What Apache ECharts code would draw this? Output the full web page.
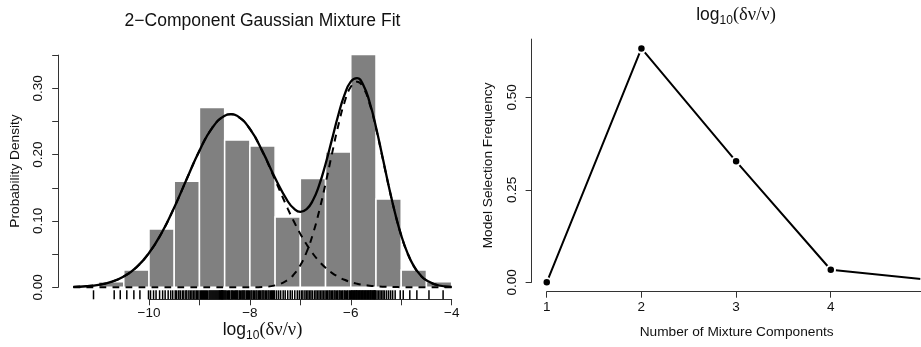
<!DOCTYPE html>
<html>
<head>
<meta charset="utf-8">
<script src="https://cdn.jsdelivr.net/npm/echarts@6/dist/echarts.min.js"></script>
<style>
  html, body { margin: 0; padding: 0; background: #fff; }
  #chart { width: 921px; height: 347px; }
</style>
</head>
<body>
<div id="chart"></div>
<script>
// ---- Left panel: histogram of log10(δν/ν) with a 2-component Gaussian mixture ----
const binWidth = 0.5;
const binStarts  = [-11, -10.5, -10, -9.5, -9, -8.5, -8, -7.5, -7, -6.5, -6, -5.5, -5, -4.5];
const binDensity = [0.0085, 0.026, 0.088, 0.160, 0.271, 0.222, 0.213, 0.106, 0.164, 0.204, 0.351, 0.133, 0.026, 0.0085];

// Fitted densities sampled along the x range
const curveX = [-11.5, -11.25, -11, -10.75, -10.5, -10.25, -10, -9.75, -9.5, -9.25, -9, -8.75, -8.5, -8.375,
  -8.25, -8, -7.75, -7.5, -7.25, -7.125, -7, -6.875, -6.75, -6.625, -6.5, -6.375, -6.25, -6.125, -6,
  -5.875, -5.75, -5.625, -5.5, -5.375, -5.25, -5.125, -5, -4.875, -4.75, -4.625, -4.5, -4.25, -4];
const component1 = [0.0006, 0.0016, 0.0038, 0.0082, 0.0163, 0.0301, 0.0517, 0.0819, 0.1203, 0.1636, 0.2059, 0.2399, 0.2587, 0.2610,
  0.2583, 0.2387, 0.2043, 0.1618, 0.1187, 0.0987, 0.0805, 0.0645, 0.0506, 0.0390, 0.0294, 0.0218, 0.0159, 0.0113, 0.0079,
  0.0054, 0.0037, 0.0024, 0.0016, 0.0010, 0.0006, 0.0004, 0.0002, 0.0001, 0.0001, 0, 0, 0, 0];
const component2 = [0, 0, 0, 0, 0, 0, 0, 0, 0, 0, 0, 0, 0, 0,
  0, 0.0001, 0.0006, 0.0029, 0.0110, 0.0197, 0.0332, 0.0532, 0.0806, 0.1154, 0.1564, 0.2004, 0.2430, 0.2786, 0.3022,
  0.3100, 0.3008, 0.2761, 0.2398, 0.1969, 0.1530, 0.1124, 0.0781, 0.0514, 0.0319, 0.0188, 0.0105, 0.0027, 0.0006];
const mixture = [0.0006, 0.0016, 0.0038, 0.0082, 0.0163, 0.0301, 0.0517, 0.0819, 0.1203, 0.1636, 0.2059, 0.2399, 0.2587, 0.2610,
  0.2583, 0.2388, 0.2049, 0.1647, 0.1297, 0.1184, 0.1137, 0.1177, 0.1312, 0.1544, 0.1858, 0.2222, 0.2589, 0.2899, 0.3101,
  0.3154, 0.3045, 0.2785, 0.2414, 0.1979, 0.1536, 0.1128, 0.0783, 0.0515, 0.0320, 0.0188, 0.0105, 0.0027, 0.0006];

// Individual observations (rug)
const observations = [
  -11.10, -10.69, -10.57, -10.44, -10.30, -10.18, -10.01,
  -9.97, -9.91, -9.86, -9.79, -9.73, -9.68, -9.62, -9.57, -9.53,
  -9.48, -9.45, -9.41, -9.38, -9.34, -9.31, -9.27, -9.25, -9.21, -9.18, -9.15, -9.12, -9.09, -9.06, -9.04, -9.01,
  -8.98, -8.96, -8.94, -8.92, -8.90, -8.88, -8.86, -8.84, -8.81, -8.79, -8.77, -8.75, -8.73, -8.71, -8.69, -8.67,
  -8.65, -8.63, -8.61, -8.60, -8.58, -8.57, -8.56, -8.55, -8.54, -8.53, -8.51,
  -8.49, -8.47, -8.44, -8.42, -8.40, -8.37, -8.35, -8.33, -8.30, -8.28, -8.26, -8.24, -8.21, -8.19, -8.16, -8.14,
  -8.12, -8.10, -8.07, -8.05, -8.03, -8.01,
  -7.98, -7.96, -7.93, -7.91, -7.88, -7.86, -7.83, -7.81, -7.79, -7.76, -7.74, -7.72, -7.69, -7.67, -7.64, -7.62,
  -7.59, -7.57, -7.55, -7.53, -7.51,
  -7.47, -7.43, -7.39, -7.34, -7.30, -7.25, -7.20, -7.16, -7.11, -7.06, -7.02,
  -6.98, -6.95, -6.91, -6.88, -6.85, -6.82, -6.79, -6.76, -6.72, -6.69, -6.66, -6.63, -6.60, -6.57, -6.54, -6.51,
  -6.48, -6.46, -6.43, -6.41, -6.38, -6.36, -6.33, -6.31, -6.28, -6.26, -6.23, -6.21, -6.18, -6.16, -6.13, -6.11,
  -6.08, -6.06, -6.03, -6.01,
  -5.99, -5.98, -5.96, -5.95, -5.93, -5.92, -5.90, -5.89, -5.88, -5.86, -5.85, -5.83, -5.82, -5.80, -5.79, -5.77,
  -5.76, -5.74, -5.73, -5.71, -5.70, -5.68, -5.67, -5.65, -5.64, -5.62, -5.61, -5.60, -5.58, -5.57, -5.55, -5.54,
  -5.53, -5.52, -5.51,
  -5.48, -5.45, -5.42, -5.39, -5.36, -5.33, -5.29, -5.25, -5.21, -5.17, -5.12, -5.02,
  -4.96, -4.83, -4.69, -4.45, -4.17
];
const leftXTicks = [-10, -9, -8, -7, -6, -5, -4];
const leftXLabels = [-10, -8, -6, -4];
const leftYTicks = [0, 0.05, 0.10, 0.15, 0.20, 0.25, 0.30, 0.35];
const leftYLabels = [0, 0.10, 0.20, 0.30];

// ---- Right panel: how often each model size was selected ----
const components = [1, 2, 3, 4, 5];
const selectionFrequency = [0.0, 0.632, 0.327, 0.034, 0.008];
const rightYTicks = [0, 0.25, 0.50];

const SANS = '"Liberation Sans", Arial, Helvetica, sans-serif';
const SERIF = '"Liberation Serif", "DejaVu Serif", serif';
const INK = '#111';
const AXIS = '#333';

const minus = v => String(v).replace('-', '\u2212');
const fixed2 = v => Number(v).toFixed(2);

const hidden = { show: false };

const chart = echarts.init(document.getElementById('chart'), null, { renderer: 'canvas' });

const logLabelRich = {
  a: { fontFamily: SANS, fontSize: 17.5, lineHeight: 24, color: INK, verticalAlign: 'middle' },
  b: { fontFamily: SANS, fontSize: 12, lineHeight: 12, color: INK, verticalAlign: 'bottom' },
  c: { fontFamily: SERIF, fontSize: 18.5, lineHeight: 24, color: INK, verticalAlign: 'middle' }
};
const logLabel = '{a|log}{b|10}{c|(δν/ν)}';

function textEl(x, y, text, size, rot) {
  return {
    type: 'text', x: x, y: y, rotation: rot || 0, silent: true,
    style: { text: text, fill: INK, font: size + 'px ' + SANS, align: 'center', verticalAlign: 'middle' }
  };
}
function richEl(x, y) {
  return {
    type: 'text', x: x, y: y, silent: true,
    style: { text: logLabel, rich: logLabelRich, fill: INK, align: 'center', verticalAlign: 'middle' }
  };
}

const tickStyle = { show: true, length: 6, lineStyle: { color: AXIS, width: 1 } };
const labelStyle = { color: INK, fontFamily: SANS, fontSize: 13.5 };

const option = {
  animation: false,
  backgroundColor: '#fff',
  grid: [
    // 0: left plotting region
    { left: 58.2, top: 55.1, width: 408.6, height: 244.2, outerBoundsMode: 'none' },
    // 1: left y axis
    { left: 58.2, top: 55.1, width: 10, height: 232.2, outerBoundsMode: 'none' },
    // 2: left x axis
    { left: 149, top: 290, width: 302.7, height: 9.3, outerBoundsMode: 'none' },
    // 3: right plotting region
    { left: 531.6, top: 39.1, width: 409.0, height: 252.6, outerBoundsMode: 'none' },
    // 4: right y axis
    { left: 531.6, top: 39.1, width: 10, height: 243.2, outerBoundsMode: 'none' },
    // 5: right x axis
    { left: 546.7, top: 280, width: 393.8, height: 11.7, outerBoundsMode: 'none' }
  ],
  xAxis: [
    { gridIndex: 0, type: 'value', min: -11.8, max: -3.7, show: false },
    { gridIndex: 1, type: 'value', min: 0, max: 1, show: false },
    {
      gridIndex: 2, type: 'value', min: -10, max: -4, interval: 1, position: 'bottom',
      axisLine: { show: true, lineStyle: { color: AXIS, width: 1 } },
      axisTick: Object.assign({ customValues: leftXTicks }, tickStyle),
      axisLabel: Object.assign({ customValues: leftXLabels, margin: 6.5, formatter: minus }, labelStyle),
      splitLine: hidden
    },
    { gridIndex: 3, type: 'value', min: 0.84, max: 5.16, show: false },
    { gridIndex: 4, type: 'value', min: 0, max: 1, show: false },
    {
      gridIndex: 5, type: 'value', min: 1, max: 5.16, position: 'bottom',
      axisLine: { show: true, lineStyle: { color: AXIS, width: 1 } },
      axisTick: Object.assign({ customValues: components }, tickStyle),
      axisLabel: Object.assign({ customValues: components, margin: 9 }, labelStyle),
      splitLine: hidden
    }
  ],
  yAxis: [
    { gridIndex: 0, type: 'value', min: -0.0181, max: 0.35, show: false },
    {
      gridIndex: 1, type: 'value', min: 0, max: 0.35, interval: 0.05, position: 'left',
      axisLine: { show: true, lineStyle: { color: AXIS, width: 1 } },
      axisTick: Object.assign({ customValues: leftYTicks }, tickStyle),
      axisLabel: Object.assign({ customValues: leftYLabels, rotate: 90, margin: 12.5, formatter: fixed2 }, labelStyle),
      splitLine: hidden
    },
    { gridIndex: 2, type: 'value', min: 0, max: 1, show: false },
    { gridIndex: 3, type: 'value', min: -0.0253, max: 0.6573, show: false },
    {
      gridIndex: 4, type: 'value', min: 0, max: 0.6573, position: 'left',
      axisLine: { show: true, lineStyle: { color: AXIS, width: 1 } },
      axisTick: Object.assign({ customValues: rightYTicks }, tickStyle),
      axisLabel: Object.assign({ customValues: rightYTicks, rotate: 90, margin: 12.5, formatter: fixed2 }, labelStyle),
      splitLine: hidden
    },
    { gridIndex: 5, type: 'value', min: 0, max: 1, show: false }
  ],
  series: [
    {
      // histogram bars
      type: 'custom', xAxisIndex: 0, yAxisIndex: 0, z: 2,
      data: binStarts.map((lo, i) => [lo, lo + binWidth, binDensity[i]]),
      renderItem: function (params, api) {
        const p0 = api.coord([api.value(0), 0]);
        const p1 = api.coord([api.value(1), api.value(2)]);
        return {
          type: 'rect',
          shape: { x: p0[0], y: p1[1], width: p1[0] - p0[0], height: p0[1] - p1[1] },
          style: { fill: '#808080', stroke: '#ffffff', lineWidth: 1.5 }
        };
      }
    },
    {
      type: 'line', xAxisIndex: 0, yAxisIndex: 0, z: 3, smooth: true, showSymbol: false,
      data: curveX.map((x, i) => [x, component1[i]]),
      lineStyle: { color: '#000', width: 2, type: [7, 6] }
    },
    {
      type: 'line', xAxisIndex: 0, yAxisIndex: 0, z: 3, smooth: true, showSymbol: false,
      data: curveX.map((x, i) => [x, component2[i]]),
      lineStyle: { color: '#000', width: 2, type: [7, 6] }
    },
    {
      type: 'line', xAxisIndex: 0, yAxisIndex: 0, z: 4, smooth: true, showSymbol: false,
      data: curveX.map((x, i) => [x, mixture[i]]),
      lineStyle: { color: '#000', width: 2.3 }
    },
    {
      // rug of observations along the bottom of the plotting region
      type: 'custom', xAxisIndex: 0, yAxisIndex: 0, z: 5, clip: false,
      data: observations.map(v => [v, 0]),
      renderItem: function (params, api) {
        const p = api.coord([api.value(0), 0]);
        const bottom = params.coordSys.y + params.coordSys.height;
        return {
          type: 'line',
          shape: { x1: p[0], y1: bottom, x2: p[0], y2: bottom - 9 },
          style: { stroke: '#000', lineWidth: 1.5 }
        };
      }
    },
    {
      type: 'line', xAxisIndex: 3, yAxisIndex: 3, z: 3,
      data: components.map((c, i) => [c, selectionFrequency[i]]),
      symbol: 'circle', symbolSize: 8.5, showSymbol: true,
      lineStyle: { color: '#000', width: 2 },
      itemStyle: { color: '#000', borderColor: '#fff', borderWidth: 2 }
    }
  ],
  graphic: [
    textEl(262.5, 21, '2\u2212Component Gaussian Mixture Fit', 17.5),
    textEl(15.5, 171, 'Probability Density', 13.7, Math.PI / 2),
    richEl(262.5, 330),
    richEl(736, 15),
    textEl(488, 165.4, 'Model Selection Frequency', 13.7, Math.PI / 2),
    textEl(736.7, 332.7, 'Number of Mixture Components', 13.7)
  ]
};

chart.setOption(option);
</script>
</body>
</html>
